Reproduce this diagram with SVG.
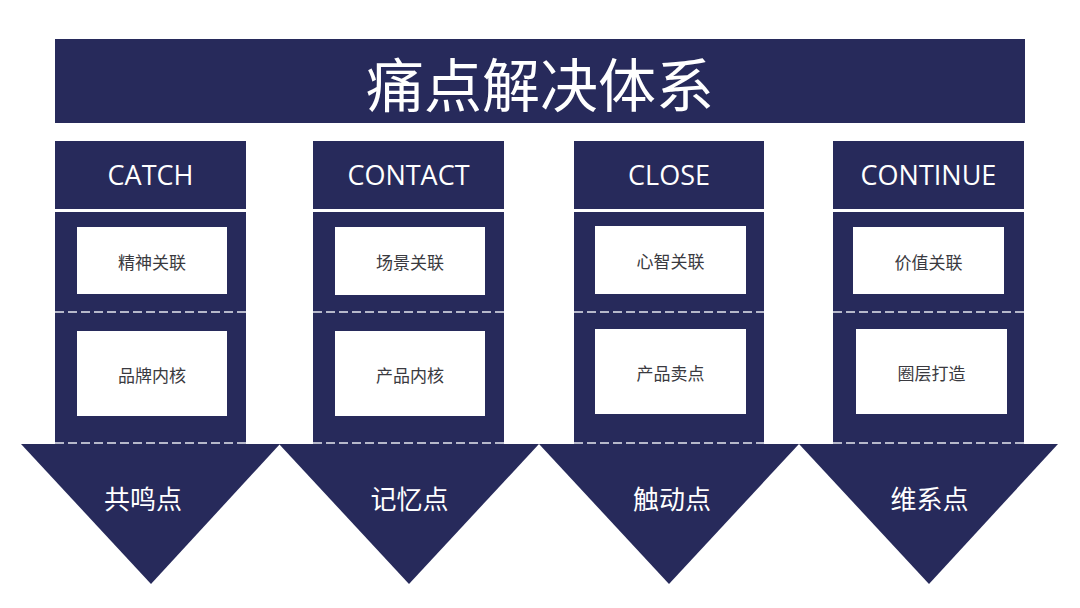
<svg xmlns="http://www.w3.org/2000/svg" width="1080" height="608" viewBox="0 0 1080 608">
<style>
.dk{fill:#272a5b}
.wb{fill:#ffffff}
.dash{stroke:#e6e8f0;stroke-width:1.5;stroke-dasharray:9 4;fill:none}
.title{font-family:"Noto Sans CJK SC","Noto Sans",sans-serif;font-size:58px;fill:#ffffff;text-anchor:middle;dominant-baseline:central}
.hd{font-family:"Open Sans","Noto Sans",sans-serif;font-size:27px;fill:#ffffff;text-anchor:middle;dominant-baseline:central}
.bx{font-family:"Noto Sans CJK SC","Noto Sans",sans-serif;font-size:17px;fill:#3a3a40;text-anchor:middle;dominant-baseline:central}
.tri{font-family:"Noto Sans CJK SC","Noto Sans",sans-serif;font-size:26px;fill:#ffffff;text-anchor:middle;dominant-baseline:central}
</style>
<rect width="1080" height="608" fill="#ffffff"/>
<g id="title">
<rect class="dk" x="55" y="39" width="970" height="84"/>
<text class="title" x="540" y="82">痛点解决体系</text>
</g>
<g id="col1">
<rect class="dk" x="55" y="141" width="191" height="68"/>
<text class="hd" x="150.5" y="174">CATCH</text>
<rect class="dk" x="55" y="212" width="191" height="233"/>
<polygon class="dk" points="21,444 280,444 151,584"/>
<rect class="wb" x="77" y="227" width="150" height="67"/>
<text class="bx" x="152" y="261">精神关联</text>
<rect class="wb" x="77" y="331" width="150" height="85"/>
<text class="bx" x="152" y="374">品牌内核</text>
<text class="tri" x="143" y="497">共鸣点</text>
</g>
<g id="col2">
<rect class="dk" x="313" y="141" width="191" height="68"/>
<text class="hd" x="408.5" y="174">CONTACT</text>
<rect class="dk" x="313" y="212" width="191" height="233"/>
<polygon class="dk" points="279,444 539,444 409,584"/>
<rect class="wb" x="335" y="227" width="150" height="68"/>
<text class="bx" x="410" y="261">场景关联</text>
<rect class="wb" x="335" y="331" width="150" height="85"/>
<text class="bx" x="410" y="374">产品内核</text>
<text class="tri" x="409.5" y="497">记忆点</text>
</g>
<g id="col3">
<rect class="dk" x="574" y="141" width="190" height="68"/>
<text class="hd" x="669" y="174">CLOSE</text>
<rect class="dk" x="574" y="212" width="190" height="233"/>
<polygon class="dk" points="539,444 799,444 669,584"/>
<rect class="wb" x="595" y="226" width="151" height="68"/>
<text class="bx" x="670.5" y="260">心智关联</text>
<rect class="wb" x="595" y="329" width="151" height="85"/>
<text class="bx" x="670.5" y="372">产品卖点</text>
<text class="tri" x="672" y="497">触动点</text>
</g>
<g id="col4">
<rect class="dk" x="833" y="141" width="191" height="68"/>
<text class="hd" x="928.5" y="174">CONTINUE</text>
<rect class="dk" x="833" y="212" width="191" height="233"/>
<polygon class="dk" points="799,444 1058,444 929,584"/>
<rect class="wb" x="853" y="227" width="151" height="67"/>
<text class="bx" x="928.5" y="261">价值关联</text>
<rect class="wb" x="856" y="329" width="151" height="85"/>
<text class="bx" x="931.5" y="372">圈层打造</text>
<text class="tri" x="929.5" y="497">维系点</text>
</g>
<g id="connectors">
<line class="dash" x1="55" y1="312" x2="246" y2="312"/>
<line class="dash" x1="55" y1="443" x2="246" y2="443"/>
<line class="dash" x1="313" y1="312" x2="504" y2="312"/>
<line class="dash" x1="313" y1="443" x2="504" y2="443"/>
<line class="dash" x1="574" y1="312" x2="764" y2="312"/>
<line class="dash" x1="574" y1="443" x2="764" y2="443"/>
<line class="dash" x1="833" y1="312" x2="1024" y2="312"/>
<line class="dash" x1="833" y1="443" x2="1024" y2="443"/>
</g>
</svg>
